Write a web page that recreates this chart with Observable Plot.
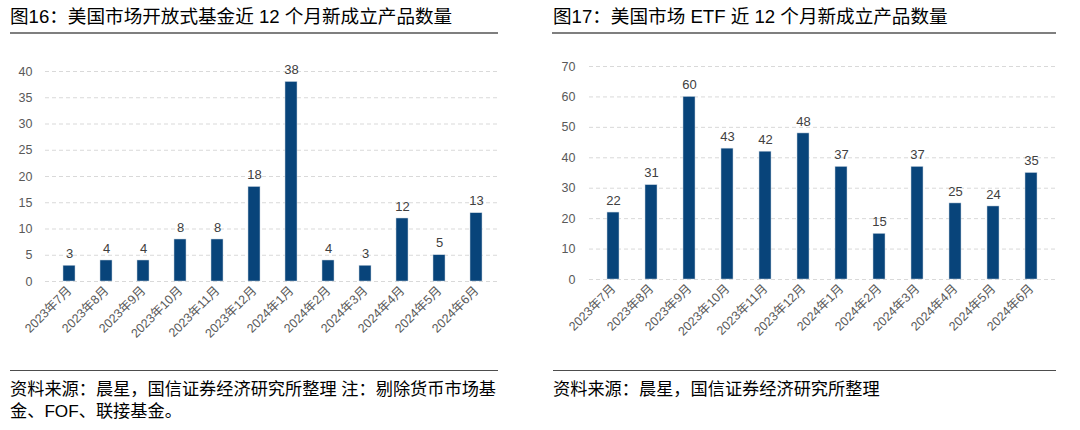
<!DOCTYPE html>
<html>
<head>
<meta charset="utf-8">
<script src="https://cdn.jsdelivr.net/npm/d3@7"></script>
<script src="https://cdn.jsdelivr.net/npm/@observablehq/plot@0.6"></script>
<style>
  html, body { margin: 0; padding: 0; background: #fff; }
  body { width: 1080px; height: 430px; position: relative; overflow: hidden;
         font-family: "Liberation Sans", Arial, "Noto Sans CJK SC", sans-serif; }
  .title { position: absolute; top: 5px; font-size: 18.6px; line-height: 24px; color: #000; white-space: nowrap; }
  .rule-top { position: absolute; top: 32px; height: 0; border-top: 2px solid #7f7f7f; }
  .rule-bot { position: absolute; top: 370px; height: 0; border-top: 1.5px solid #4d4d4d; }
  .caption { position: absolute; top: 378px; font-size: 17.2px; line-height: 22px; color: #000; white-space: nowrap; }
  .chart { position: absolute; top: 40px; }
  .chart svg { font-family: "Liberation Sans", Arial, "Noto Sans CJK SC", sans-serif; }
</style>
</head>
<body>
<div class="title" style="left:10px">图16：美国市场开放式基金近 12 个月新成立产品数量</div>
<div class="rule-top" style="left:10px;width:488px"></div>
<div class="chart" id="left" style="left:0px"></div>
<div class="rule-bot" style="left:10px;width:488px"></div>
<div class="caption" style="left:10px">资料来源：晨星，国信证券经济研究所整理 注：剔除货币市场基<br>金、FOF、联接基金。</div>

<div class="title" style="left:553px">图17：美国市场 ETF 近 12 个月新成立产品数量</div>
<div class="rule-top" style="left:552px;width:504px"></div>
<div class="chart" id="right" style="left:540px"></div>
<div class="rule-bot" style="left:553px;width:503px"></div>
<div class="caption" style="left:553px">资料来源：晨星，国信证券经济研究所整理</div>

<script>
const months = ["2023年7月","2023年8月","2023年9月","2023年10月","2023年11月","2023年12月",
                "2024年1月","2024年2月","2024年3月","2024年4月","2024年5月","2024年6月"];
const fundCounts = [3, 4, 4, 8, 8, 18, 38, 4, 3, 12, 5, 13];
const etfCounts = [22, 31, 60, 43, 42, 48, 37, 15, 37, 25, 24, 35];
const leftTicks = [0, 5, 10, 15, 20, 25, 30, 35, 40];
const rightTicks = [0, 10, 20, 30, 40, 50, 60, 70];

const barColor = "#08447a";

function makeChart(values, ticks, yMax, m) {
  const data = months.map((mo, i) => ({month: mo, value: values[i]}));
  return Plot.plot({
    width: 540,
    height: 310,
    marginLeft: m.left,
    marginRight: m.right,
    marginTop: m.top,
    marginBottom: m.bottom,
    style: {fontSize: "12px", color: "#595959", background: "transparent"},
    x: {domain: months, paddingInner: 0.68, paddingOuter: 0.34, label: null},
    y: {domain: [0, yMax], ticks: ticks, label: null},
    marks: [
      Plot.ruleY(ticks, {stroke: "#d9d9d9", strokeWidth: 1, strokeDasharray: "4,3"}),
      Plot.axisY({ticks: ticks, tickSize: 0, tickPadding: m.pad, fontSize: 12.5, fill: "#595959", label: null}),
      Plot.axisX({tickSize: 0, tickPadding: 7, tickRotate: -45, fontSize: 12.5, fill: "#595959", label: null}),
      Plot.barY(data, {x: "month", y: "value", fill: barColor, stroke: "#c7d3e0", strokeWidth: 0.5}),
      Plot.text(data, {x: "month", y: "value", text: d => String(d.value), dy: -12, fontSize: 13, fill: "#404040"})
    ]
  });
}

document.getElementById("left").appendChild(
  makeChart(fundCounts, leftTicks, 40, {left: 45, right: 40, top: 31, bottom: 69, pad: 13}));
document.getElementById("right").appendChild(
  makeChart(etfCounts, rightTicks, 70, {left: 49, right: 25, top: 26, bottom: 71, pad: 14}));
</script>
</body>
</html>
